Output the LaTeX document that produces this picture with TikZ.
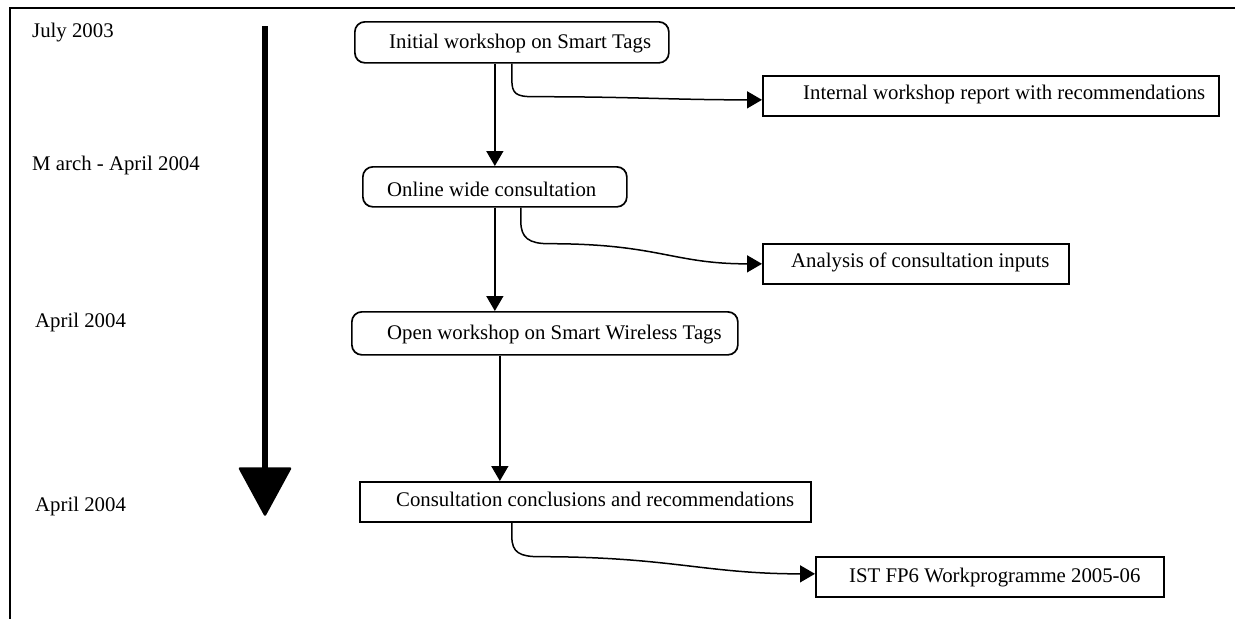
\documentclass[tikz,border=0pt]{standalone}
\usepackage{fontspec}
\setmainfont{Liberation Serif}
\usetikzlibrary{arrows.meta}
\begin{document}
\begin{tikzpicture}[x=1pt,y=-1pt,
  frame/.style={line width=2.5pt},
  box/.style={draw, line width=1.7pt, inner sep=0pt, anchor=north west},
  rbox/.style={box, rounded corners=10pt},
  txt/.style={inner sep=0pt, anchor=base west, font=\fontsize{20.8pt}{24pt}\selectfont},
  conn/.style={line width=1.5pt, -{Triangle[length=15pt,width=17pt]}},
  timeline/.style={line width=6.5pt},
  headtip/.style={fill=black, draw=black, line width=2.5pt, line join=round}
]
\useasboundingbox (0,0) rectangle (1235,619);
% frame
\draw[frame] (1235,8) -- (10,8) -- (10,619);

% dates
\node[txt] (d1) at (32,37) {July 2003};
\node[txt] (d2) at (32,170) {M arch - April 2004};
\node[txt] (d3) at (35,327) {April 2004};
\node[txt] (d4) at (35,511) {April 2004};

% timeline arrow
\coordinate (tlTop) at (265,26);
\coordinate (tlHead) at (265,470);
\coordinate (hL) at (240,468.5);
\coordinate (hR) at (290,468.5);
\coordinate (hT) at (265,514.5);
\draw[timeline] (tlTop) -- (tlHead);
\filldraw[headtip] (hL) -- (hR) -- (hT) -- cycle;

% boxes
\node[rbox, minimum width=314pt, minimum height=41pt] (b1) at (354,21) {};
\node[box,  minimum width=456pt, minimum height=40pt] (b2) at (762,75) {};
\node[rbox, minimum width=264pt, minimum height=40pt] (b3) at (362,166) {};
\node[box,  minimum width=306pt, minimum height=40pt] (b4) at (762,243) {};
\node[rbox, minimum width=386pt, minimum height=43pt] (b5) at (351,311) {};
\node[box,  minimum width=451pt, minimum height=40pt] (b6) at (359,481) {};
\node[box,  minimum width=348pt, minimum height=40pt] (b7) at (815,556) {};

% box texts
\node[txt] (t1) at ([xshift=35pt,yshift=-6pt]b1.west) {Initial workshop on Smart Tags};
\node[txt] (t2) at ([xshift=41pt,yshift=-4pt]b2.west) {Internal workshop report with recommendations};
\node[txt] (t3) at ([xshift=25pt,yshift=-10pt]b3.west) {Online wide consultation};
\node[txt] (t4) at ([xshift=29pt,yshift=-4pt]b4.west) {Analysis of consultation inputs};
\node[txt] (t5) at ([xshift=36pt,yshift=-6.5pt]b5.west) {Open workshop on Smart Wireless Tags};
\node[txt] (t6) at ([xshift=37pt,yshift=-5pt]b6.west) {Consultation conclusions and recommendations};
\node[txt] (t7) at ([xshift=34pt,yshift=-6pt]b7.west) {IST FP6 Workprogramme 2005-06};

% connectors
\draw[conn] (b1.south -| b3.north) -- (b3.north);
\draw[conn] (b1.south) -- ++(0,16) .. controls +(0,14) and +(-18,0) .. ++(22,17)
  .. controls +(100,0) and +(-90,0) .. ([yshift=-4pt]b2.west);

\draw[conn] (b3.south) -- (b3.south |- b5.north);
\draw[conn] ([xshift=26pt]b3.south) -- ++(0,14) .. controls +(0,16) and +(-20,0) .. ++(28,22)
  .. controls +(110,0) and +(-90,0) .. (b4.west);

\coordinate (c5) at ([xshift=-45pt]b5.south);
\draw[conn] (c5) -- (c5 |- b6.north);
\draw[conn] ([xshift=-73.5pt]b6.south) -- ++(0,14) .. controls +(0,16) and +(-20,0) .. ++(28,20)
  .. controls +(130,0) and +(-110,0) .. ([yshift=3pt]b7.west);
\end{tikzpicture}
\end{document}
